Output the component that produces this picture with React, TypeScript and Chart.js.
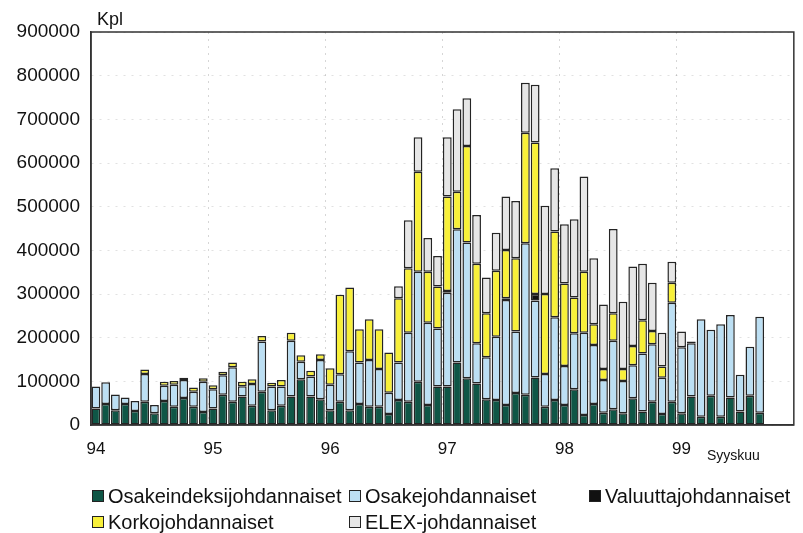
import React, { useEffect, useRef } from 'react';
import { Chart, registerables } from 'chart.js';
Chart.register(...registerables);

const FONT = '"Liberation Sans", Arial, Helvetica, sans-serif';

// Years and month slots on the axis (Jan 1994 – Dec 1999)
const years = ['94', '95', '96', '97', '98', '99'];
const months = ['1', '2', '3', '4', '5', '6', '7', '8', '9', '10', '11', '12'];
const endNote = 'Syyskuu';
const endNoteIndex = 65;

// Monthly contracts (Kpl), Jan 1994 – Sep 1999
const osakeindeksi = [
  38000, 48000, 34000, 48000, 32000, 53000, 27000, 55000, 42000, 62000, 42000, 30000,
  38000, 69000, 53000, 65000, 44000, 76000, 34000, 44000, 65000, 105000, 65000, 59000,
  34000, 53000, 34000, 48000, 42000, 42000, 25000, 57000, 53000, 99000, 46000, 88000,
  88000, 143000, 107000, 95000, 59000, 57000, 46000, 73000, 69000, 109000, 42000, 57000,
  46000, 82000, 23000, 48000, 28000, 36000, 27000, 61000, 31000, 53000, 25000, 53000,
  27000, 65000, 19000, 67000, 19000, 63000, 31000, 67000, 28000,
];
const osake = [
  50000, 50000, 36000, 15000, 23000, 64000, 19000, 35000, 50000, 41000, 34000, 69000,
  44000, 45000, 79000, 24000, 50000, 115000, 54000, 44000, 128000, 40000, 46000, 90000,
  58000, 63000, 135000, 95000, 107000, 86000, 49000, 86000, 158000, 252000, 188000, 133000,
  215000, 305000, 311000, 92000, 96000, 145000, 240000, 141000, 347000, 176000, 75000, 190000,
  89000, 128000, 188000, 135000, 75000, 157000, 74000, 76000, 133000, 132000, 83000, 227000,
  151000, 122000, 223000, 151000, 212000, 189000, 84000, 112000, 220000,
];
const valuutta = [
  null, null, null, null, null, null, null, null, null, null, null, null,
  null, null, null, null, null, null, null, null, null, null, null, null,
  null, null, null, null, null, null, null, null, null, null, null, null,
  4000, null, null, null, null, null, 4000, null, null, 15000, null, null,
  null, null, null, null, null, null, null, null, null, null, null, null,
  null, null, null, null, null, null, null, null, null,
];
const korko = [
  null, null, null, null, null, 10000, null, 9000, 9000, 5000, 10000, 8000,
  9000, 8000, 11000, 10000, 11000, 13000, 9000, 15000, 18000, 15000, 13000, 13000,
  38000, 182000, 146000, 76000, 93000, 91000, 92000, 147000, 148000, 229000, 117000, 96000,
  216000, 86000, 221000, 182000, 101000, 151000, 111000, 168000, 253000, 347000, 183000, 196000,
  189000, 82000, 140000, 48000, 25000, 63000, 27000, 44000, 76000, 30000, 26000, 46000,
  null, null, null, null, null, null, null, null, null,
];
const elex = [
  null, null, null, null, null, null, null, null, null, null, null, null,
  null, null, null, null, null, null, null, null, null, null, null, null,
  null, null, null, null, null, null, null, 28000, 110000, 79000, 77000, 70000,
  136000, 189000, 109000, 112000, 82000, 87000, 122000, 131000, 115000, 132000, 202000, 145000,
  136000, 179000, 218000, 151000, 148000, 193000, 154000, 182000, 129000, 111000, 77000, 48000,
  36000, 4000, null, null, null, null, null, null, null,
];

const seriesNames = [
  'Osakeindeksijohdannaiset',
  'Osakejohdannaiset',
  'Valuuttajohdannaiset',
  'Korkojohdannaiset',
  'ELEX-johdannaiset',
];
const seriesColors = ['#0f5646', '#bcdff3', '#111111', '#f8f03a', '#e6e6e6'];

const yTicks = [0, 100000, 200000, 300000, 400000, 500000, 600000, 700000, 800000, 900000];

const categories: string[] = [];
years.forEach((y) => months.forEach((m) => categories.push(m + '/' + y)));

const frame = {
  id: 'frame',
  afterDraw(chart: any) {
    const { ctx, chartArea, scales } = chart;
    ctx.save();
    ctx.strokeStyle = '#333';
    ctx.lineWidth = 1.5;
    ctx.strokeRect(chartArea.left, chartArea.top, chartArea.right - chartArea.left, chartArea.bottom - chartArea.top);
    ctx.fillStyle = '#111';
    ctx.font = '18px ' + FONT;
    ctx.textAlign = 'left';
    ctx.textBaseline = 'bottom';
    ctx.fillText('Kpl', chartArea.left + 6, chartArea.top - 3);
    ctx.font = '14px ' + FONT;
    ctx.textAlign = 'center';
    ctx.textBaseline = 'alphabetic';
    ctx.fillText(endNote, scales.x.getPixelForValue(endNoteIndex) + 3, chartArea.bottom + 35);
    ctx.restore();
  },
};

function App() {
  const ref = useRef<HTMLCanvasElement | null>(null);
  useEffect(() => {
    if (!ref.current) return;
    const data = [osakeindeksi, osake, valuutta, korko, elex];
    const chart = new Chart(ref.current, {
      type: 'bar',
      data: {
        labels: categories,
        datasets: data.map((d, i) => ({
          label: seriesNames[i],
          data: d,
          backgroundColor: seriesColors[i],
          borderColor: '#242424',
          borderWidth: 1.5,
          borderSkipped: false,
          barPercentage: 0.9,
          categoryPercentage: 1,
          stack: 's',
        })),
      },
      options: {
        animation: false,
        responsive: false,
        maintainAspectRatio: false,
        layout: { padding: { left: 0, right: 8, top: 32, bottom: 68 } },
        plugins: { legend: { display: false }, tooltip: { enabled: false } },
        scales: {
          x: {
            stacked: true,
            afterFit: (s: any) => { s.height = 40; },
            grid: {
              offset: true,
              drawTicks: false,
              color: (c: any) => (c.index > 0 && c.index % 12 === 0 ? 'rgba(120,120,120,0.3)' : 'rgba(0,0,0,0)'),
              lineWidth: 1,
            },
            border: { display: true, color: '#333', width: 1.5, dash: [2, 5] },
            ticks: {
              autoSkip: false,
              maxRotation: 0,
              minRotation: 0,
              padding: 14,
              color: '#111',
              font: { size: 17, family: FONT },
              callback: (_v: any, i: number) => (i % 12 === 0 ? years[i / 12] : ''),
            },
          },
          y: {
            stacked: true,
            min: 0,
            max: 900000,
            afterFit: (s: any) => { s.width = 91; },
            afterBuildTicks: (s: any) => { s.ticks = yTicks.map((v) => ({ value: v })); },
            grid: { color: 'rgba(120,120,120,0.22)', drawTicks: false, lineWidth: 1 },
            border: { display: true, color: '#333', width: 1.5, dash: [2, 6] },
            ticks: {
              padding: 11,
              color: '#111',
              font: { size: 19, family: FONT },
              callback: (v: any) => String(v),
            },
          },
        },
      },
      plugins: [frame],
    });
    return () => chart.destroy();
  }, []);

  const legendItems = [
    { i: 0, x: 92, y: 487 },
    { i: 1, x: 349, y: 487 },
    { i: 2, x: 589, y: 487 },
    { i: 3, x: 92, y: 513 },
    { i: 4, x: 349, y: 513 },
  ];

  return (
    <div style={{ position: 'absolute', left: 0, top: 0, width: 803, height: 533, background: '#fff', overflow: 'hidden' }}>
      <canvas ref={ref} width={803} height={533} style={{ display: 'block' }} />
      {legendItems.map((it) => (
        <div
          key={it.i}
          style={{
            position: 'absolute',
            left: it.x,
            top: it.y,
            height: 18,
            display: 'flex',
            alignItems: 'center',
            fontFamily: FONT,
            fontSize: 20,
            color: '#111',
            whiteSpace: 'nowrap',
          }}
        >
          <span
            style={{
              display: 'inline-block',
              width: 10,
              height: 10,
              background: seriesColors[it.i],
              border: '1px solid #222',
              marginRight: 4,
            }}
          />
          <span>{seriesNames[it.i]}</span>
        </div>
      ))}
    </div>
  );
}

export default App;
